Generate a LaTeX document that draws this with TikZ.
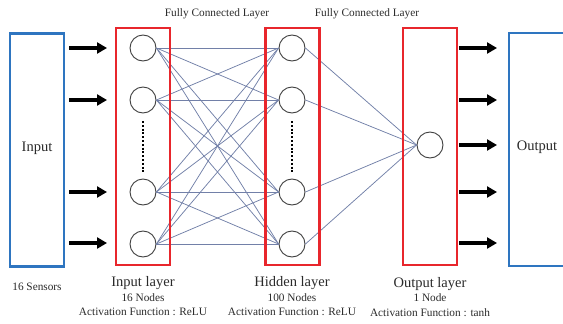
\documentclass[tikz,border=0pt]{standalone}
\usepackage{fontspec}
\setmainfont{Liberation Serif}
\usetikzlibrary{arrows.meta}
\definecolor{boxblue}{HTML}{2E75C0}
\definecolor{boxred}{HTML}{E8262C}
\definecolor{connc}{HTML}{7280A8}
\definecolor{txt}{HTML}{2A2A2A}
\tikzset{
  iobox/.style={draw=boxblue,line width=2.4pt,minimum width=54pt,minimum height=233pt,inner sep=0pt,outer sep=0pt},
  layerbox/.style={draw=boxred,line width=2.6pt,minimum width=54pt,minimum height=237pt,inner sep=0pt,outer sep=0pt},
  neuron/.style={circle,draw=black!75,line width=0.9pt,minimum size=26pt,inner sep=0pt,fill=white},
  conn/.style={draw=connc,line width=0.75pt},
  bigarrow/.style={line width=3.6pt,-{Triangle[length=10pt,width=11pt]}},
  dotcol/.style={line width=2.2pt,dash pattern=on 2pt off 1.8pt},
  bigtxt/.style={text=txt,font=\fontsize{14.5}{16}\selectfont,inner sep=0pt},
  smalltxt/.style={text=txt,font=\fontsize{11.3}{13}\selectfont,inner sep=0pt}
}
\begin{document}
\begin{tikzpicture}[x=1pt,y=-1pt]
\useasboundingbox (0,0) rectangle (563,324);
\clip (0,0) rectangle (563,324);
% neurons
\node[neuron] (i1) at (143,48) {};
\node[neuron] (i2) at (143,100) {};
\node[neuron] (i3) at (143,192) {};
\node[neuron] (i4) at (143,244) {};
\node[neuron] (h1) at (292,48) {};
\node[neuron] (h2) at (292,100) {};
\node[neuron] (h3) at (292,192) {};
\node[neuron] (h4) at (292,244) {};
\node[neuron] (o1) at (430,145) {};
% connections
\foreach \i in {1,...,4}{
  \foreach \j in {1,...,4}{
    \draw[conn] (i\i.east) -- (h\j.west);
  }
  \draw[conn] (h\i.east) -- (o1.west);
}
% boxes (drawn over the connections)
\node[iobox] (inbox) at (37,150) {};
\node[iobox,minimum width=72pt] (outbox) at (545,149.5) {};
\node[layerbox] (L1) at (143,146.5) {};
\node[layerbox] (L2) at (292.5,146.5) {};
\node[layerbox] (L3) at (430,146.5) {};
% dots
\coordinate (d1a) at (143,121);
\coordinate (d1b) at (143,172);
\coordinate (d2a) at (292,121);
\coordinate (d2b) at (292,172);
\draw[dotcol] (d1a) -- (d1b);
\draw[dotcol] (d2a) -- (d2b);
% input arrows
\foreach \y [count=\k] in {48,100,192,243}{
  \coordinate (ia\k) at (69,\y);
  \coordinate (ib\k) at (107,\y);
  \draw[bigarrow] (ia\k) -- (ib\k);
}
% output arrows
\foreach \y [count=\k] in {48,100,145,192,243}{
  \coordinate (oa\k) at (459,\y);
  \coordinate (ob\k) at (497,\y);
  \draw[bigarrow] (oa\k) -- (ob\k);
}
% texts
\node[bigtxt] (tin) at (37,148) {Input};
\node[bigtxt] (tout) at (537,147) {Output};
\node[smalltxt] (fc1) at (217,14) {Fully Connected Layer};
\node[smalltxt] (fc2) at (367,14) {Fully Connected Layer};
\node[smalltxt] (sens) at (37,287) {16 Sensors};
\node[bigtxt] (l1a) at (143,283) {Input layer};
\node[smalltxt] (l1b) at (143,298) {16 Nodes};
\node[smalltxt] (l1c) at (143,312) {Activation Function : ReLU};
\node[bigtxt] (l2a) at (292,283) {Hidden layer};
\node[smalltxt] (l2b) at (292,298) {100 Nodes};
\node[smalltxt] (l2c) at (292,312) {Activation Function : ReLU};
\node[bigtxt] (l3a) at (430,284) {Output layer};
\node[smalltxt] (l3b) at (430,298) {1 Node};
\node[smalltxt] (l3c) at (430,313) {Activation Function : tanh};
\end{tikzpicture}
\end{document}
